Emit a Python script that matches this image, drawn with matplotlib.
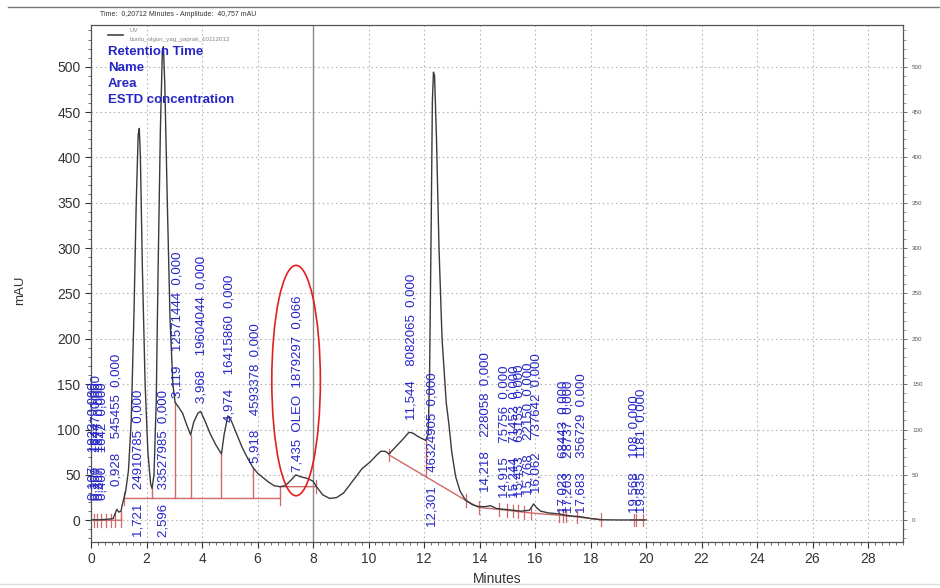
import matplotlib
matplotlib.use("Agg")
import matplotlib.pyplot as plt
from matplotlib.patches import Ellipse
from matplotlib.ticker import MultipleLocator
import numpy as np

plt.rcParams['font.family'] = ['Liberation Sans', 'DejaVu Sans']

# ---- chromatogram trace (minutes, mAU) ----
trace_t = [0.00, 0.30, 0.60, 0.80, 0.93, 1.00, 1.08, 1.15, 1.25, 1.35, 1.45, 1.55, 1.63, 1.70, 1.74,
           1.78, 1.85, 1.95, 2.05, 2.15, 2.20, 2.27, 2.35, 2.42, 2.50, 2.57, 2.61, 2.66, 2.75, 2.85,
           2.95, 3.03, 3.15, 3.30, 3.45, 3.59, 3.70, 3.85, 3.95, 4.10, 4.30, 4.50, 4.70, 4.80, 4.93,
           5.05, 5.25, 5.45, 5.65, 5.84, 6.00, 6.20, 6.40, 6.60, 6.81, 7.00, 7.20, 7.38, 7.55, 7.80,
           8.00, 8.15, 8.35, 8.60, 8.85, 9.10, 9.40, 9.77, 10.05, 10.30, 10.44, 10.60, 10.74, 10.95,
           11.20, 11.46, 11.60, 11.80, 12.06, 12.15, 12.20, 12.26, 12.30, 12.34, 12.38, 12.45, 12.54,
           12.65, 12.80, 12.90, 13.00, 13.14, 13.30, 13.50, 13.75, 13.98, 14.20, 14.40, 14.60, 14.90,
           15.20, 15.50, 15.80, 15.95, 16.05, 16.20, 16.50, 16.86, 17.20, 17.60, 18.00, 18.40, 19.00,
           19.50, 20.00]
trace_y = [0.5, 0.5, 1, 2, 12, 9, 10, 20, 32, 55, 110, 230, 350, 425, 432,
           400, 280, 150, 75, 40, 35, 50, 130, 280, 430, 515, 522, 480, 350, 220,
           150, 130, 125, 118, 105, 94, 108, 118, 120, 110, 95, 83, 73, 95, 115,
           110, 95, 80, 68, 58, 52, 47, 42, 38, 37, 38, 44, 50, 48, 46,
           43, 36, 28, 24, 25, 30, 42, 57, 64, 72, 76, 76, 73, 80,
           88, 97, 96, 92, 88, 95, 160, 330, 460, 494, 490, 420, 300,
           200, 130, 105, 75, 48, 32, 22, 17, 15, 15, 16, 13, 12,
           11, 10, 11, 18, 14, 10, 8, 7, 5, 4, 2, 0.5, 0.3,
           0.3, 0.3]

# ---- peak annotations ----
peak_rt = [0.107, 0.200, 0.307, 0.400, 0.928, 1.721, 2.596, 3.119, 3.968, 4.974, 5.918, 7.435,
           11.544, 12.301, 14.218, 14.915, 15.244, 15.453, 15.768, 16.062, 17.023, 17.203,
           17.683, 19.568, 19.835]
peak_name = ["", "", "", "", "", "", "", "", "", "", "", "OLEO",
             "", "", "", "", "", "", "", "", "", "", "", "", ""]
peak_area = ["1923", "16447", "1877", "1642", "545455", "24910785", "33527985", "12571444",
             "19604044", "16415860", "4593378", "1879297", "8082065", "46324905", "228058",
             "75756", "71452", "63153", "22150", "737642", "68443", "28737", "356729", "108", "1181"]
peak_conc = ["0,000"] * 11 + ["0,066"] + ["0,000"] * 13
label_base = [22, 22, 22, 22, 38, -19, -19, 135, 129, 108, 63, 53,
              110, -8, 31, 24, 24, 26, 28, 30, 8, 8, 8, 8, 8]

# ---- integration baseline ----
base_t = [0.00, 1.07, np.nan, 1.20, 6.81, np.nan, 6.81, 8.11, np.nan,
          10.74, 13.50, 13.98, 14.70, 15.84, 16.86, 17.50, 18.37, np.nan, 19.45, 19.93]
base_y = [0, 0, np.nan, 24, 24, np.nan, 37, 37, np.nan,
          72, 22, 14, 12, 8, 5.5, 3.7, 0.5, np.nan, 0.3, 0.3]
tick_t = [0.10, 0.22, 0.35, 0.53, 0.71, 0.85, 1.07, 1.20, 6.81, 8.11, 10.74, 13.50, 13.98, 14.70,
          15.00, 15.20, 15.40, 15.60, 15.84, 16.86, 17.00, 17.10, 17.50, 18.37, 19.55, 19.65, 19.90]
drop_t = [1.07, 1.20, 2.19, 3.03, 3.59, 4.70, 5.84, 6.81, 12.06]

x_ticks = list(range(0, 29, 2))
y_ticks = list(range(0, 501, 50))
header_lines = ["Retention Time", "Name", "Area", "ESTD concentration"]

BLUE = '#2626c8'
RED = '#d06a6a'
TRACE = '#3a3a3a'

fig = plt.figure(figsize=(9.4, 5.88), dpi=100)
ax = fig.add_axes([91 / 940, 1 - 542 / 588, (903 - 91) / 940, (542 - 25) / 588])
ax.set_xlim(0, 29.26)
ax.set_ylim(-24, 546)

ax.set_xticks(x_ticks)
ax.set_yticks(y_ticks)
ax.xaxis.set_minor_locator(MultipleLocator(0.25))
ax.yaxis.set_minor_locator(MultipleLocator(10))
ax.tick_params(axis='both', which='major', direction='out', length=4, labelsize=10,
               colors='#333333', width=0.8)
ax.tick_params(axis='both', which='minor', direction='out', length=2, color='#555555', width=0.6)
ax.grid(True, which='major', linestyle=(0, (1.5, 2.5)), color='#b8b8b8', linewidth=0.8)
for s in ax.spines.values():
    s.set_color('#555555')
    s.set_linewidth(0.9)

ax2 = ax.twinx()
ax2.set_ylim(ax.get_ylim())
ax2.set_yticks(y_ticks)
ax2.yaxis.set_minor_locator(MultipleLocator(10))
ax2.tick_params(axis='y', which='major', direction='out', length=3, labelsize=4.5,
                colors='#555555', width=0.6)
ax2.tick_params(axis='y', which='minor', direction='out', length=2, color='#777777', width=0.5)
for s in ax2.spines.values():
    s.set_visible(False)

# cursor line
ax.axvline(8.0, color='#8a8a8a', lw=1.0, zorder=2)

# trace
ax.plot(trace_t, trace_y, color=TRACE, lw=1.0, zorder=4)

# integration baseline
ax.plot(base_t, base_y, color=RED, lw=1.0, zorder=3)
bt = np.array(base_t, dtype=float)
by = np.array(base_y, dtype=float)


def base_at(t):
    segs = []
    cur_t, cur_y = [], []
    for a, b in zip(bt, by):
        if np.isnan(a):
            if cur_t:
                segs.append((cur_t, cur_y))
            cur_t, cur_y = [], []
        else:
            cur_t.append(a)
            cur_y.append(b)
    if cur_t:
        segs.append((cur_t, cur_y))
    for st, sy in segs:
        if st[0] - 1e-6 <= t <= st[-1] + 1e-6:
            return float(np.interp(t, st, sy))
    return 0.0


for t in tick_t:
    b = base_at(t)
    ax.plot([t, t], [b - 7, b + 7], color=RED, lw=0.9, zorder=3)
for t in drop_t:
    b = base_at(t)
    c = float(np.interp(t, trace_t, trace_y))
    ax.plot([t, t], [b, c], color=RED, lw=1.0, zorder=3)

# peak labels
for rt, nm, ar, cc, yb in zip(peak_rt, peak_name, peak_area, peak_conc, label_base):
    s = f"{rt:.3f}".replace('.', ',') + "  " + nm + "  " + ar + "  " + cc
    ax.text(rt, yb, s, rotation=90, ha='center', va='bottom', color=BLUE,
            fontsize=9.5, zorder=5)

# ellipse around OLEO
ax.add_patch(Ellipse((7.39, 154), 1.75, 254, fill=False, edgecolor='#e02020', lw=1.2, zorder=6))

# header block
for i, line in enumerate(header_lines):
    fig.text(108 / 940, 1 - (52 + 16 * i) / 588, line, color=BLUE, fontsize=9.5,
             fontweight='bold', va='center', ha='left')

# legend
fig.add_artist(plt.Line2D([108 / 940, 123 / 940], [1 - 35 / 588, 1 - 35 / 588],
                          color='#444444', lw=1.2))
fig.text(130 / 940, 1 - 30 / 588, "UV", fontsize=4.5, color='#888888', va='center')
fig.text(130 / 940, 1 - 40 / 588, "bunlu_olgun_yag_yaprak_10112012", fontsize=4.5,
         color='#888888', va='center')

# title
fig.text(178 / 940, 1 - 14 / 588, "Time:  0,20712 Minutes - Amplitude:  40,757 mAU",
         fontsize=5, color='#333333', ha='center', va='center')

# frame lines of screenshot
fig.add_artist(plt.Line2D([8 / 940, 1.0], [1 - 7 / 588, 1 - 7 / 588], color='#777777', lw=1.0))
fig.add_artist(plt.Line2D([0, 1.0], [1 - 584 / 588, 1 - 584 / 588], color='#dddddd', lw=1.0))

ax.set_xlabel("Minutes", fontsize=10, color='#333333', labelpad=4)
fig.text(20 / 940, 1 - 290 / 588, "mAU", rotation=90, fontsize=9.5, color='#333333',
         ha='center', va='center')

fig.savefig("out.png", dpi=100)
